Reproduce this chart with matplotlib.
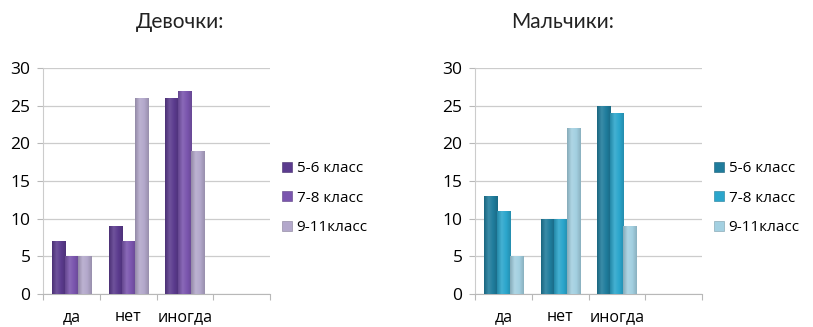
import numpy as np
import matplotlib
matplotlib.use('Agg')
import matplotlib.pyplot as plt
from matplotlib.colors import LinearSegmentedColormap, to_rgb

plt.rcParams['font.family'] = ['Open Sans', 'DejaVu Sans']

categories = ['да', 'нет', 'иногда']
series = ['5-6 класс', '7-8 класс', '9-11класс']

girls = [
	[7, 9, 26],
	[5, 7, 27],
	[5, 26, 19],
]
boys = [
	[13, 10, 25],
	[11, 10, 24],
	[5, 22, 9],
]

girls_colors = ['#5b3b8e', '#7a55ae', '#b3a8cb']
boys_colors = ['#1f7c9c', '#2ba6cc', '#a3d0e1']


def shade(color, f):
	r, g, b = to_rgb(color)
	if f < 1:
		return (r * f, g * f, b * f)
	f = f - 1
	return (r + (1 - r) * f, g + (1 - g) * f, b + (1 - b) * f)


def gradient_bars(ax, bars, color):
	cmap = LinearSegmentedColormap.from_list('g', [shade(color, 0.82), shade(color, 1.12), color, shade(color, 0.85)])
	grad = np.linspace(0, 1, 64).reshape(1, -1)
	for b in bars:
		x0, y0 = b.get_x(), b.get_y()
		w, h = b.get_width(), b.get_height()
		im = ax.imshow(grad, cmap=cmap, aspect='auto', extent=(x0, x0 + w, y0, y0 + h), zorder=3,
					   interpolation='bilinear')
		im.set_clip_path(b)


def draw(ax, data, colors):
	x = np.arange(len(categories))
	width = 0.23
	handles = []
	for i, vals in enumerate(data):
		bars = ax.bar(x + (i - 1) * width, vals, width, color=colors[i], edgecolor=shade(colors[i], 0.75),
					  linewidth=0.4, zorder=2)
		gradient_bars(ax, bars, colors[i])
		handles.append(bars)
	ax.set_xlim(-0.5, 3.5)
	ax.set_ylim(0, 30)
	ax.set_yticks(range(0, 31, 5))
	ax.yaxis.grid(True, color='#cccccc', linewidth=0.9, zorder=0)
	ax.set_axisbelow(True)
	ax.set_xticks([-0.5, 0.5, 1.5, 2.5, 3.5])
	ax.set_xticklabels([])
	ax.set_xticks(x, minor=True)
	ax.set_xticklabels(categories, minor=True, fontsize=11.5)
	ax.tick_params(axis='x', which='major', length=4, color='#b8b8b8', direction='out')
	ax.tick_params(axis='x', which='minor', length=0, pad=11)
	ax.tick_params(axis='y', length=4, color='#b8b8b8', labelsize=12.5, pad=5)
	for s in ['top', 'right']:
		ax.spines[s].set_visible(False)
	ax.spines['left'].set_color('#cccccc')
	ax.spines['bottom'].set_color('#b8b8b8')
	return handles


fig = plt.figure(figsize=(8.13, 3.27), dpi=100)
W, H = 813.0, 327.0

ax1 = fig.add_axes([43 / W, (H - 294) / H, 227 / W, 226 / H])
ax2 = fig.add_axes([475 / W, (H - 294) / H, 227 / W, 226 / H])

h1 = draw(ax1, girls, girls_colors)
h2 = draw(ax2, boys, boys_colors)

title_font = ['Lato', 'DejaVu Sans']
fig.text(180 / W, 1 - 22 / H, 'Девочки:', ha='center', va='center', fontsize=15, family=title_font,
		 color='#222222')
fig.text(563 / W, 1 - 22 / H, 'Мальчики:', ha='center', va='center', fontsize=15, family=title_font,
		 color='#222222')

leg_kw = dict(frameon=False, fontsize=11, handlelength=0.65, handleheight=0.65, handletextpad=0.3,
			  labelspacing=0.95, loc='center left', borderpad=0, borderaxespad=0)
fig.legend(h1, series, bbox_to_anchor=(282 / W, 1 - 198 / H), **leg_kw)
fig.legend(h2, series, bbox_to_anchor=(714 / W, 1 - 198 / H), **leg_kw)

fig.savefig('out.png', dpi=100)
